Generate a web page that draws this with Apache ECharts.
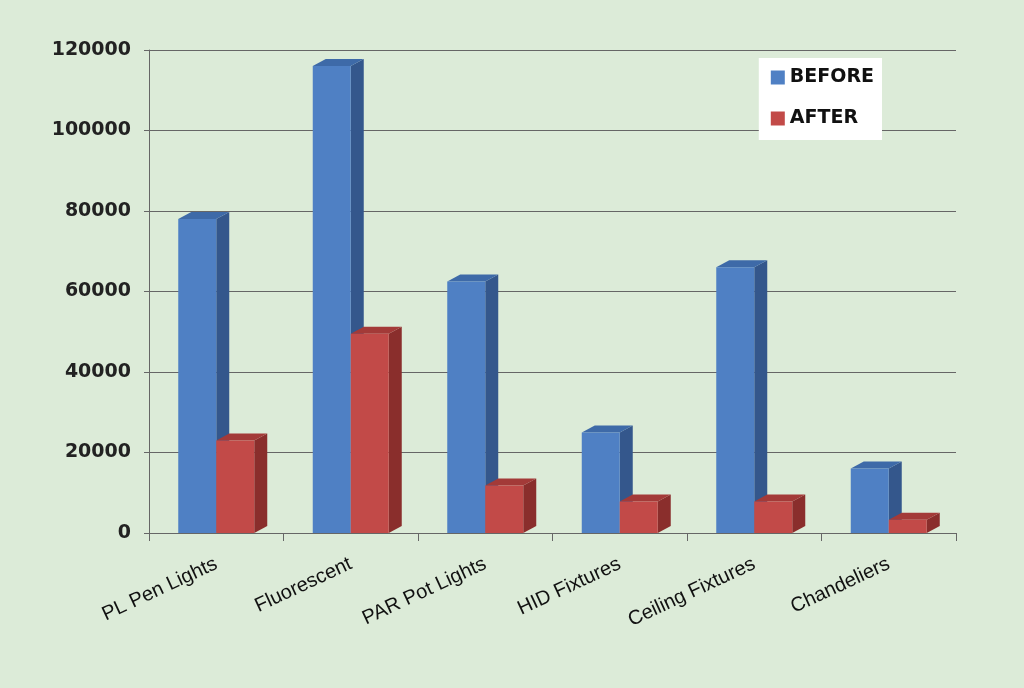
<!DOCTYPE html>
<html><head><meta charset="utf-8">
<script src="https://cdn.jsdelivr.net/npm/echarts@6/dist/echarts.min.js"></script>
<style>html,body{margin:0;background:#dcebd8}#c{width:1024px;height:688px}</style>
</head><body><div id="c"></div>
<script>
const categories=['PL Pen Lights','Fluorescent','PAR Pot Lights','HID Fixtures','Ceiling Fixtures','Chandeliers'];
const before=[78000,116000,62500,25000,66000,16000];
const after=[23000,49500,11800,7800,7800,3300];
const yTicks=[0,20000,40000,60000,80000,100000,120000];
function mk(name,data,side,colors){
  return {type:'custom',name:name,data:data.map((v,i)=>[i,v]),encode:{x:0,y:1},
    itemStyle:{color:colors[0]},
    renderItem:function(params,api){
      const top=api.coord([api.value(0),api.value(1)]);
      const base=api.coord([api.value(0),0]);
      const w=38,dx=13,dy=7;
      const x0=side<0?top[0]-w:top[0];
      const y1=top[1],y0=base[1];
      return {type:'group',children:[
        {type:'polygon',shape:{points:[[x0+w,y1],[x0+w+dx,y1-dy],[x0+w+dx,y0-dy],[x0+w,y0]]},style:{fill:colors[1]}},
        {type:'polygon',shape:{points:[[x0,y1],[x0+dx,y1-dy],[x0+w+dx,y1-dy],[x0+w,y1]]},style:{fill:colors[2]}},
        {type:'rect',shape:{x:x0,y:y1,width:w,height:y0-y1},style:{fill:colors[0]}}
      ]};
    }};
}
const chart=echarts.init(document.getElementById('c'));
chart.setOption({
  backgroundColor:'#dcebd8',
  grid:{left:149,right:68,top:50,bottom:155},
  legend:{right:142,top:58,orient:'vertical',itemWidth:14,itemHeight:14,itemGap:22,
    backgroundColor:'#ffffff',padding:[10,8,12,12],
    textStyle:{fontSize:19,fontWeight:'bold',color:'#111',fontFamily:'DejaVu Sans'},
    data:[{name:'BEFORE',icon:'rect'},{name:'AFTER',icon:'rect'}]},
  xAxis:{type:'category',data:categories,
    axisLine:{lineStyle:{color:'#666'}},axisTick:{show:true,length:8,lineStyle:{color:'#666'}},
    axisLabel:{rotate:25,fontSize:20,color:'#111',margin:30,fontFamily:'Liberation Sans'}},
  yAxis:{type:'value',min:0,max:120000,interval:20000,
    axisLine:{show:true,lineStyle:{color:'#666'}},axisTick:{show:true,lineStyle:{color:'#666'}},
    splitLine:{lineStyle:{color:'#666',width:1.2}},
    axisLabel:{fontSize:19,fontWeight:'bold',color:'#222',margin:18,fontFamily:'DejaVu Sans',formatter:v=>String(v)}},
  series:[mk('BEFORE',before,-1,['#4f80c4','#34578c','#3e6aa8']),
          mk('AFTER',after,1,['#c24a48','#8a2e2c','#a33a38'])]
});
</script></body></html>
